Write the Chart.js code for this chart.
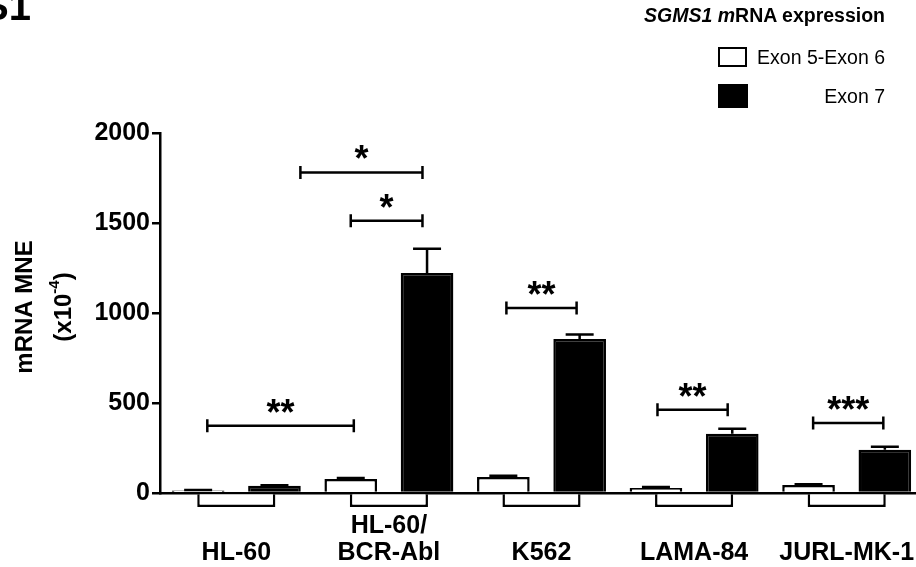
<!DOCTYPE html>
<html>
<head>
<meta charset="utf-8">
<script src="https://cdn.jsdelivr.net/npm/chart.js@4.4.1/dist/chart.umd.min.js"></script>
<style>
  html, body { margin: 0; padding: 0; background: #fff; overflow: hidden; }
  #wrap { position: relative; width: 916px; height: 567px; overflow: hidden; background: #fff; }
  #c { position: absolute; left: 0; top: 0; }
  .t { position: absolute; font-family: "Liberation Sans", Arial, sans-serif; color: #000; white-space: nowrap; }
  #fig { left: -18px; top: -14px; font-weight: bold; font-size: 40px; line-height: 40px; }
  #ltitle { right: 31px; top: 3px; font-weight: bold; font-size: 19.5px; line-height: 24px; }
  .lt { right: 31px; font-size: 19.5px; line-height: 24px; }
  .box { position: absolute; box-sizing: border-box; }
</style>
</head>
<body>
<div id="wrap">
  <canvas id="c" width="930" height="567"></canvas>
  <div class="t" id="fig">S1</div>
  <div class="t" id="ltitle"><i>SGMS1 m</i>RNA expression</div>
  <div class="box" id="box0" style="left:718px;top:47px;width:29px;height:20px;border:2.5px solid #000;background:#fff"></div>
  <div class="t lt" id="lab0" style="top:45px"></div>
  <div class="box" id="box1" style="left:718px;top:84px;width:30px;height:24px;background:#000"></div>
  <div class="t lt" id="lab1" style="top:84px"></div>
</div>
<script>
// ---- data ----
const categories = ['HL-60', 'HL-60/\nBCR-Abl', 'K562', 'LAMA-84', 'JURL-MK-1'];
const seriesNames = ['Exon 5-Exon 6', 'Exon 7'];
const exon56 = [14, 78, 89, 28, 44];
const exon56Err = [2, 5, 7, 5, 4];
const exon7 = [40, 1222, 855, 329, 240];
const exon7Err = [3, 135, 25, 28, 17];
const belowBox = [-78, -78, -78, -78, -78];
const yTicks = [0, 500, 1000, 1500, 2000];
const yTitle = ['mRNA MNE', '(x10', '-4', ')'];
// significance brackets (x in category index units, y in data units)
const sigFrom = [-0.19, 0.42, 0.75, 1.77, 2.76, 3.78];
const sigTo = [0.77, 1.22, 1.22, 2.23, 3.22, 4.24];
const sigY = [374, 1781, 1513, 1028, 463, 389];
const sigLabel = ['**', '*', '*', '**', '**', '***'];

document.getElementById('lab0').textContent = seriesNames[0];
document.getElementById('lab1').textContent = seriesNames[1];

const FONT = '"Liberation Sans", Arial, sans-serif';

const errorBars = {
  id: 'errorBars',
  afterDatasetsDraw(chart) {
    const ctx = chart.ctx;
    const y = chart.scales.y;
    const errs = [exon56Err, exon7Err];
    const vals = [exon56, exon7];
    ctx.save();
    ctx.strokeStyle = '#000';
    ctx.lineWidth = 2.5;
    for (let d = 0; d < 2; d++) {
      const meta = chart.getDatasetMeta(d);
      meta.data.forEach((bar, i) => {
        const top = y.getPixelForValue(vals[d][i] + errs[d][i]);
        ctx.beginPath();
        ctx.moveTo(bar.x, bar.y);
        ctx.lineTo(bar.x, top);
        ctx.moveTo(bar.x - 14, top);
        ctx.lineTo(bar.x + 14, top);
        ctx.stroke();
      });
    }
    ctx.restore();
  }
};

const brackets = {
  id: 'brackets',
  afterDatasetsDraw(chart) {
    const ctx = chart.ctx;
    const xs = chart.scales.x, ys = chart.scales.y;
    ctx.save();
    ctx.strokeStyle = '#000';
    ctx.fillStyle = '#000';
    ctx.lineWidth = 2.5;
    ctx.font = 'bold 36px ' + FONT;
    ctx.textAlign = 'center';
    ctx.textBaseline = 'alphabetic';
    for (let k = 0; k < sigY.length; k++) {
      const x1 = xs.getPixelForValue(sigFrom[k]);
      const x2 = xs.getPixelForValue(sigTo[k]);
      const yy = ys.getPixelForValue(sigY[k]);
      ctx.beginPath();
      ctx.moveTo(x1, yy); ctx.lineTo(x2, yy);
      ctx.moveTo(x1, yy - 6.5); ctx.lineTo(x1, yy + 6.5);
      ctx.moveTo(x2, yy - 6.5); ctx.lineTo(x2, yy + 6.5);
      ctx.stroke();
      ctx.fillText(sigLabel[k], (x1 + x2) / 2, yy - 1);
    }
    ctx.restore();
  }
};

const yTitlePlugin = {
  id: 'yTitle',
  afterDraw(chart) {
    const ctx = chart.ctx;
    const cy = 307;
    ctx.save();
    ctx.fillStyle = '#000';
    ctx.textBaseline = 'middle';
    ctx.save();
    ctx.translate(25, cy);
    ctx.rotate(-Math.PI / 2);
    ctx.font = 'bold 24px ' + FONT;
    ctx.textAlign = 'center';
    ctx.fillText(yTitle[0], 0, 0);
    ctx.restore();
    ctx.save();
    ctx.translate(64, cy);
    ctx.rotate(-Math.PI / 2);
    const big = 'bold 24px ' + FONT, small = 'bold 15px ' + FONT;
    ctx.font = big; const w1 = ctx.measureText(yTitle[1]).width; const w3 = ctx.measureText(yTitle[3]).width;
    ctx.font = small; const w2 = ctx.measureText(yTitle[2]).width;
    let x = -(w1 + w2 + w3) / 2;
    ctx.textAlign = 'left';
    ctx.font = big; ctx.fillText(yTitle[1], x, 0); x += w1;
    ctx.font = small; ctx.fillText(yTitle[2], x, -9); x += w2;
    ctx.font = big; ctx.fillText(yTitle[3], x, 0);
    ctx.restore();
    ctx.restore();
  }
};

new Chart(document.getElementById('c'), {
  type: 'bar',
  data: {
    labels: categories,
    datasets: [
      { label: seriesNames[0], data: exon56, backgroundColor: '#fff', borderColor: '#000', borderWidth: 2.5,
        borderSkipped: 'bottom', categoryPercentage: 1.0, barPercentage: 0.69 },
      { label: seriesNames[1], data: exon7, backgroundColor: '#000', borderColor: '#000', borderWidth: 2.5,
        borderSkipped: 'bottom', categoryPercentage: 1.0, barPercentage: 0.69 },
      { label: 'box', data: belowBox, backgroundColor: '#fff', borderColor: '#000', borderWidth: 2.5,
        borderSkipped: 'start', grouped: false, categoryPercentage: 1.0, barPercentage: 0.512, clip: false }
    ]
  },
  options: {
    responsive: false,
    animation: false,
    devicePixelRatio: 1,
    layout: { padding: { top: 133, right: 7, left: 0, bottom: 0 } },
    plugins: { legend: { display: false }, tooltip: { enabled: false }, title: { display: false } },
    scales: {
      x: {
        offset: true,
        grid: { display: false, drawTicks: false, tickLength: 0 },
        border: { display: true, color: '#000', width: 2.5 },
        ticks: {
          color: '#000', autoSkip: false, maxRotation: 0, minRotation: 0, padding: 20,
          font: { family: FONT, size: 25, weight: 'bold', lineHeight: 1.08 },
          callback: function (v, i) {
            const parts = categories[i].split('\n');
            return parts.length === 1 ? ['', parts[0]] : parts;
          }
        },
        afterFit(s) { s.height = 74; s.paddingLeft = 0; s.paddingRight = 0; }
      },
      y: {
        min: 0, max: 2000,
        grid: { display: true, drawOnChartArea: false, drawTicks: true, tickLength: 8, color: '#000', lineWidth: 2.5 },
        border: { display: true, color: '#000', width: 2.5 },
        ticks: { color: '#000', padding: 2, font: { family: FONT, size: 25, weight: 'bold' },
          callback: v => String(v) },
        afterBuildTicks(s) { s.ticks = yTicks.map(v => ({ value: v })); },
        afterFit(s) { s.width = 160; s.paddingTop = 0; s.paddingBottom = 0; }
      }
    }
  },
  plugins: [errorBars, brackets, yTitlePlugin]
});
</script>
</body>
</html>
